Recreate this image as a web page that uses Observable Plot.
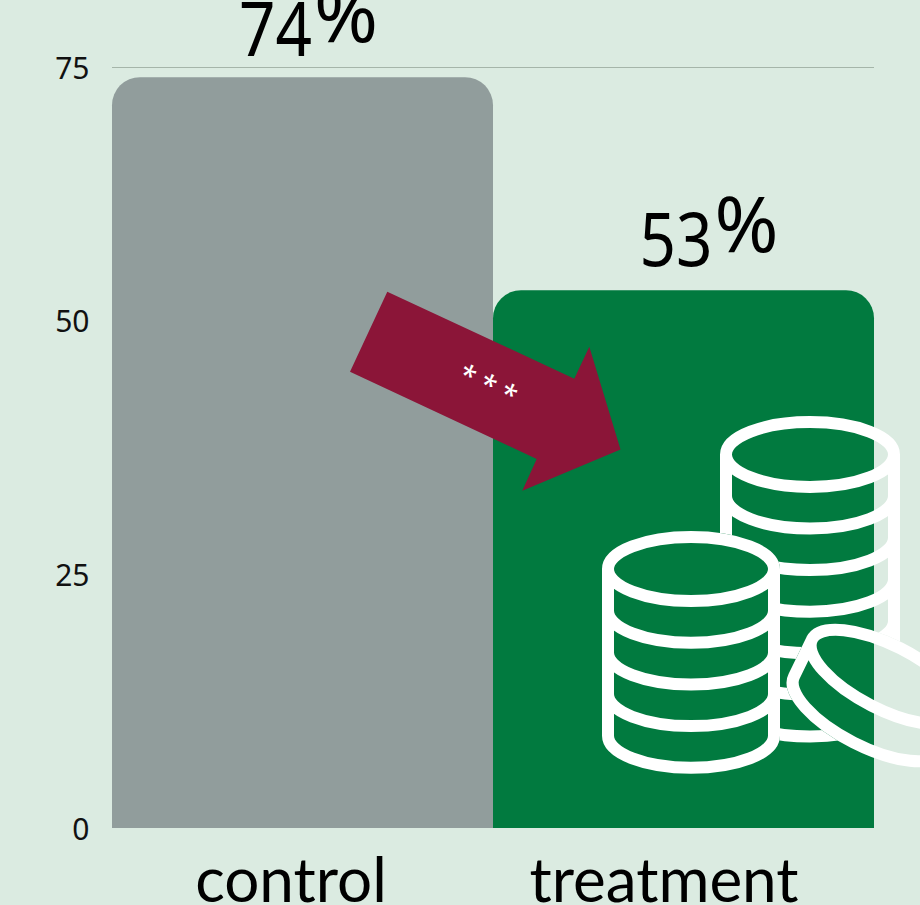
<!DOCTYPE html>
<html><head><meta charset="utf-8">
<script src="https://cdn.jsdelivr.net/npm/d3@7"></script>
<script src="https://cdn.jsdelivr.net/npm/@observablehq/plot@0.6"></script>
<style>html,body{margin:0;padding:0;background:#dbebe1;overflow:hidden}svg{display:block}</style>
</head><body><div id="chart"></div>
<script>
const groups = ["control", "treatment"];
const shares = [74, 53];
const yTicks = [0, 25, 50, 75];
const stars = "* * *";
const rows = groups.map((group, i) => ({group, share: shares[i]}));

const BG = "#dbebe1", GREY = "#919d9c", GREEN = "#017a3f", MAROON = "#8b1538";
const LABEL = "Noto Sans";
const CAT = "Lato";

function only(group) { return rows.filter(d => d.group === group); }
function valueLabel(group, dx, dy) {
  const base = {x: "group", y: "share", fontFamily: LABEL, fill: "#000", lineAnchor: "bottom"};
  return [
    Plot.text(only(group), {...base, fontSize: 74, className: "digits", text: d => String(d.share), textAnchor: "end", dx, dy}),
    Plot.text(only(group), {...base, fontSize: 77, text: () => "%", textAnchor: "start", dx: dx + 2, dy: dy - 14})
  ];
}
function catLabel(group, dx) {
  return Plot.text(only(group), {x: "group", y: () => 0, text: "group", fontFamily: CAT, fontSize: 62,
    fill: "#000", lineAnchor: "bottom", dx, dy: 73});
}

function stack(cx, top, rx, ry, arcs, step) {
  const l = cx - rx, r = cx + rx;
  const bottomY = top + arcs * step;
  let d = `M${l},${top}A${rx},${ry} 0 1 1 ${r},${top}A${rx},${ry} 0 1 1 ${l},${top}Z`;
  d += `M${l},${top}V${bottomY}A${rx},${ry} 0 0 0 ${r},${bottomY}V${top}`;
  for (let i = 1; i < arcs; i++) d += `M${l},${top + i * step}A${rx},${ry} 0 0 0 ${r},${top + i * step}`;
  return d;
}
function silhouette(cx, top, rx, ry, arcs, step) {
  const l = cx - rx, r = cx + rx, bottomY = top + arcs * step;
  return `M${l},${top}A${rx},${ry} 0 0 1 ${r},${top}V${bottomY}A${rx},${ry} 0 0 1 ${l},${bottomY}Z`;
}

function decorations(index, {x, y}, values, dims) {
  const ns = d3.create("svg:g");
  ns.append("path").attr("fill", MAROON)
    .attr("d", "M387.3,291.7L574.3,378.7L589.3,346.7L620.5,449.5L522.3,490.7L536.7,459L350,371.7Z");
  ns.append("text").attr("transform", "translate(484,394) rotate(25)").attr("text-anchor", "middle")
    .attr("font-family", "Noto Sans").attr("font-size", 28).attr("fill", "#fff").text(stars);
  const left = stack(691, 569, 83, 32, 4, 41.7);
  const right = stack(810, 454.5, 84, 32.4, 6, 41.6);
  const cx = 886, cy = 677, crx = 83, cry = 32, rot = 27, sx = -18, sy = 37;
  const rad = rot * Math.PI / 180;
  const ax = crx * Math.cos(rad), ay = crx * Math.sin(rad);
  const p1 = [cx - ax, cy - ay], p2 = [cx + ax, cy + ay];
  const coinTop = `M${p1}A${crx},${cry} ${rot} 1 1 ${p2}A${crx},${cry} ${rot} 1 1 ${p1}Z`;
  const coinWall = `M${p1}L${p1[0] + sx},${p1[1] + sy}A${crx},${cry} ${rot} 0 0 ${p2[0] + sx},${p2[1] + sy}L${p2}`;
  const mask = ns.append("mask").attr("id", "behind").attr("maskUnits", "userSpaceOnUse")
    .attr("x", 0).attr("y", 0).attr("width", 920).attr("height", 905);
  mask.append("rect").attr("width", 920).attr("height", 905).attr("fill", "#fff");
  mask.append("path").attr("d", silhouette(691, 569, 83, 32, 4, 41.7)).attr("fill", "#000").attr("stroke", "#000").attr("stroke-width", 12);
  mask.append("path").attr("d", coinTop).attr("fill", "#000").attr("stroke", "#000").attr("stroke-width", 12);
  mask.append("path").attr("d", coinWall + "Z").attr("fill", "#000").attr("stroke", "#000").attr("stroke-width", 12);
  const icon = ns.append("g").attr("fill", "none").attr("stroke", "#fff").attr("stroke-width", 12).attr("stroke-linejoin", "round");
  icon.append("path").attr("d", right).attr("mask", "url(#behind)");
  icon.append("path").attr("d", left);
  icon.append("path").attr("d", coinTop + `M${p1}L${p1[0] + sx},${p1[1] + sy}A${crx},${cry} ${rot} 0 0 ${p2[0] + sx},${p2[1] + sy}`);
  return ns.node();
}

const chart = Plot.plot({
  width: 920, height: 905,
  marginLeft: 112, marginRight: 46, marginTop: 67, marginBottom: 77,
  style: {background: BG, overflow: "hidden"},
  x: {domain: groups, padding: 0, label: null, axis: null},
  y: {domain: [0, 75], label: null, axis: null},
  marks: [
    Plot.ruleY([75], {stroke: "#a5b5a9", strokeWidth: 1}),
    Plot.barY(rows, {x: "group", y: "share", fill: d => d.group === "control" ? GREY : GREEN, rx1y1: 28, rx2y1: 28, inset: 0}),
    Plot.axisY({ticks: yTicks, tickSize: 0, tickPadding: 23, dy: 1.5, fontFamily: LABEL, fontSize: 30, label: null, color: "#111"}),
    ...valueLabel("control", 9, -22),
    ...valueLabel("treatment", 28.5, -25),
    catLabel("control", -12),
    catLabel("treatment", -20),
    decorations
  ]
});
chart.querySelectorAll(".digits text").forEach(t => {
  t.setAttribute("textLength", 73);
  t.setAttribute("lengthAdjust", "spacingAndGlyphs");
});
document.getElementById("chart").append(chart);
</script></body></html>
